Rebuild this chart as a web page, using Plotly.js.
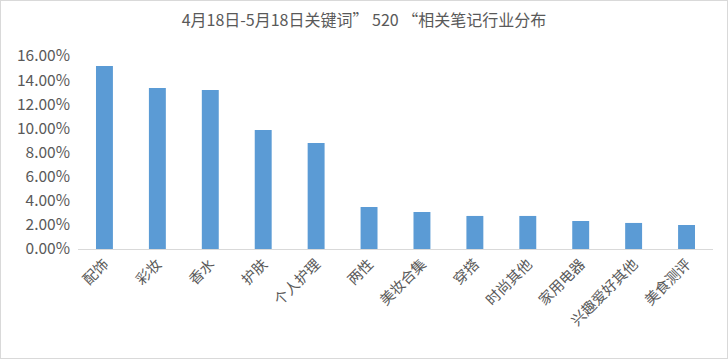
<!DOCTYPE html>
<html><head><meta charset="utf-8">
<script src="https://cdn.plot.ly/plotly-3.0.1.min.js"></script>
<style>
html,body{margin:0;padding:0;background:#fff;}
#chart{width:728px;height:359px;box-sizing:border-box;border:1px solid #d9d9d9;}
</style></head>
<body><div id="chart"></div>
<script>
const categories = ["配饰","彩妆","香水","护肤","个人护理","两性","美妆合集","穿搭","时尚其他","家用电器","兴趣爱好其他","美食测评"];
const shares = [15.17,13.35,13.18,9.87,8.79,3.48,3.07,2.74,2.74,2.32,2.16,1.99];
const yTicks = [0,2,4,6,8,10,12,14,16];
const titleText = "4月18日-5月18日关键词” 520 “相关笔记行业分布";

const font = '"Noto Sans CJK SC", "Microsoft YaHei", sans-serif';
Plotly.newPlot('chart', [{
  type: 'bar', x: categories, y: shares,
  marker: {color: '#5b9bd5'}, hoverinfo: 'x+y'
}], {
  width: 726, height: 357,
  margin: {l: 77, r: 14, t: 55, b: 109},
  paper_bgcolor: '#fff', plot_bgcolor: '#fff',
  bargap: 0.68,
  font: {family: font, color: '#595959', size: 14},
  title: {text: titleText, x: 0.5, xanchor: 'center', y: 0.945, yanchor: 'middle',
          font: {family: font, size: 16, color: '#595959'}},
  xaxis: {tickangle: -45, showline: true, linecolor: '#d9d9d9', linewidth: 1,
          ticks: '', showgrid: false, tickfont: {size: 14.5, color: '#595959'}},
  yaxis: {range: [0, 16], tickvals: yTicks, ticktext: yTicks.map(v => v.toFixed(2) + '%'),
          showgrid: false, zeroline: false, showline: false, ticks: '', ticklabelstandoff: 7,
          tickfont: {size: 15.5, color: '#595959'}}
}, {displayModeBar: false, staticPlot: true});
</script></body></html>
